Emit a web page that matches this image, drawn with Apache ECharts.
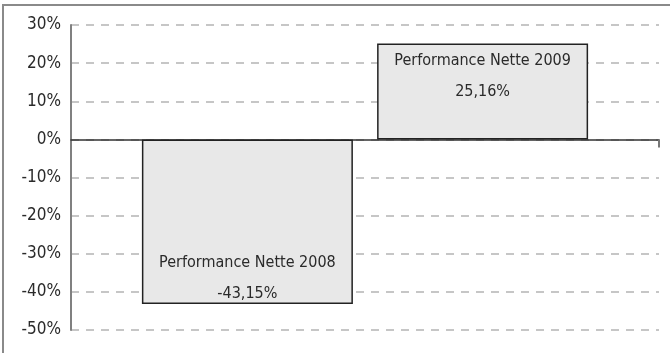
<!DOCTYPE html>
<html lang="fr">
<head>
    <meta charset="UTF-8">
    <title>Performance Nette</title>
    <script src="https://cdn.jsdelivr.net/npm/echarts@6/dist/echarts.min.js"></script>
    <style>
        html, body { margin: 0; padding: 0; background: #fff; }
    </style>
</head>
<body>
    <div id="main" style="width: 670px; height: 353px;"></div>
    <script>
        // données
        var years = ['2008', '2009'];
        var perf = [-43.15, 25.16];
        var slots = [3, 7];   // position des barres sur l'axe x (0..10)
        var yTicks = [-50, -40, -30, -20, -10, 0, 10, 20, 30];

        var FONT = '"DejaVu Sans Condensed", "Liberation Sans Narrow", Roboto, sans-serif';

        function fmt(v) {
            return v.toFixed(2).replace('.', ',') + '%';
        }

        var chart = echarts.init(document.getElementById('main'));
        var option = {
            animation: false,
            textStyle: { fontFamily: FONT },
            graphic: [{
                type: 'rect',
                shape: { x: 3, y: 5, width: 700, height: 400 },
                style: { fill: 'none', stroke: '#8a8a8a', lineWidth: 2 },
                silent: true
            }],
            grid: { left: 71, right: 11, top: 25, bottom: 23 },
            xAxis: {
                type: 'value',
                min: 0,
                max: 10,
                axisLine: { onZero: true, lineStyle: { color: '#333', width: 1.5 } },
                axisTick: {
                    show: true,
                    customValues: [10],
                    length: 8,
                    lineStyle: { color: '#777', width: 2 }
                },
                axisLabel: { show: false },
                splitLine: { show: false }
            },
            yAxis: {
                type: 'value',
                min: yTicks[0],
                max: yTicks[yTicks.length - 1],
                interval: 10,
                axisLine: { show: true, lineStyle: { color: '#808080', width: 2 } },
                axisTick: { show: false },
                axisLabel: {
                    margin: 10,
                    color: '#2a2a2a',
                    fontSize: 17,
                    fontFamily: FONT,
                    formatter: '{value}%'
                },
                splitLine: {
                    lineStyle: { color: '#b4b4b4', width: 1.5, type: [8, 7] }
                }
            },
            series: [{
                type: 'bar',
                barWidth: 211,
                data: perf.map(function (v, i) {
                    return {
                        value: [slots[i], v],
                        label: {
                            position: v < 0 ? 'insideBottom' : 'insideTop',
                            distance: 0,
                            offset: v < 0 ? [0, 5] : [0, 2]
                        }
                    };
                }),
                itemStyle: { color: '#e8e8e8', borderColor: '#222', borderWidth: 1.5 },
                label: {
                    show: true,
                    color: '#2a2a2a',
                    fontSize: 16,
                    fontFamily: FONT,
                    lineHeight: 31,
                    formatter: function (p) {
                        return 'Performance Nette ' + years[p.dataIndex] + '\n' + fmt(p.value[1]);
                    }
                }
            }]
        };
        chart.setOption(option);
    </script>
</body>
</html>
